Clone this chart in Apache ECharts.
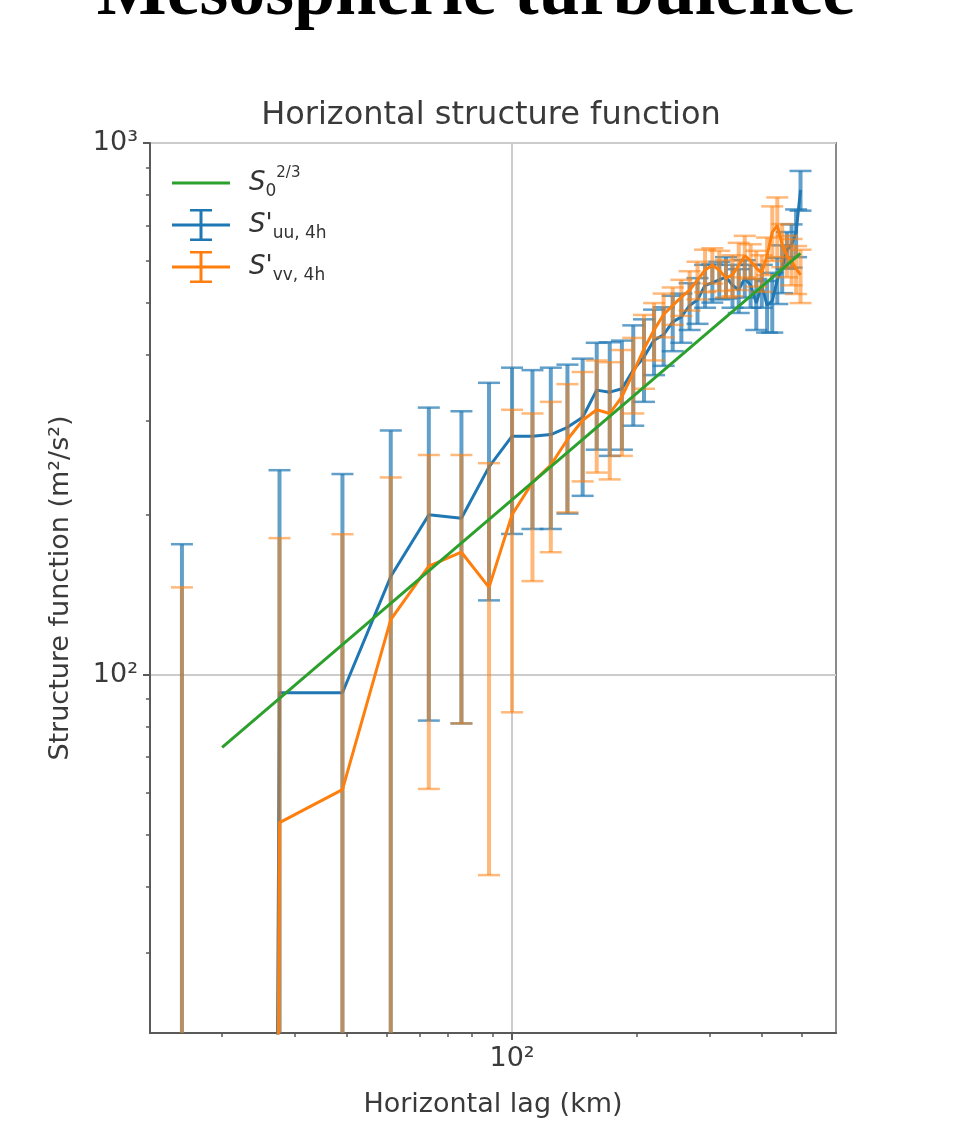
<!DOCTYPE html>
<html><head><meta charset="utf-8">
<script src="https://cdn.jsdelivr.net/npm/echarts@6/dist/echarts.min.js"></script>
<style>html,body{margin:0;padding:0;background:#fff}#c{width:960px;height:1124px}</style>
</head><body><div id="c"></div>
<script>
// ---------------- data ----------------
const mainTitle = 'Mesospheric turbulence';
const subTitle = 'Horizontal structure function';
const xName = 'Horizontal lag (km)';
const yName = 'Structure function (m²/s²)';

const lags = [16, 27.5, 39, 51, 63, 75.5, 88, 100, 112, 124, 136, 148, 160, 172, 184, 196, 208, 220, 232, 244,
  256, 268, 280, 292, 304, 316, 328, 340, 352, 364, 376, 388, 400, 412, 424, 436, 448, 460, 472, 484, 496];

const uuMean = [-45, 92.5, 92.5, 153, 200, 197, 246, 281, 281, 283, 292, 305, 343, 340, 345, 374, 396, 426, 436, 461,
  471, 495, 507, 540, 546, 553, 560, 540, 529, 557, 540, 500, 540, 495, 505, 553, 582, 630, 643, 680, 816];
const uuErr = [221, 150, 146, 135, 118, 116, 108, 97, 93, 95, 91, 88, 78, 82, 80, 80, 70, 60, 55, 55,
  50, 50, 50, 50, 45, 45, 50, 50, 50, 45, 50, 55, 50, 55, 65, 55, 60, 50, 60, 70, 70];

const vvMean = [-60, 52.7, 60.8, 127, 160, 170, 146, 200, 230, 248, 277, 301, 315, 310, 333, 370, 410, 445, 476, 495,
  513, 529, 553, 577, 589, 577, 557, 565, 589, 614, 600, 582, 570, 614, 680, 700, 644, 614, 600, 580, 565];
const vvErr = [206, 128, 123, 108, 99, 89, 104, 115, 80, 78, 75, 70, 75, 77, 75, 60, 65, 55, 45, 40,
  40, 45, 45, 53, 45, 50, 45, 50, 60, 55, 45, 45, 45, 50, 80, 90, 60, 55, 60, 60, 65];

const fitLag = [20, 496];
const fitVal = [73, 620];

const xMajorTicks = [100];
const xMinorTicks = [20, 30, 40, 50, 60, 70, 80, 90, 200, 300, 400, 500];
const yMajorTicks = [100, 1000];
const yMinorTicks = [30, 40, 50, 60, 70, 80, 90, 200, 300, 400, 500, 600, 700, 800, 900];

const X_MIN = 13.4, X_MAX = 604, Y_MIN = 21.2, Y_MAX = 1000;

const legendLabels = {
  fit: '{it|S}{sub|0}{sup|2/3}',
  uu: "{it|S'}{sub|uu, 4h}",
  vv: "{it|S'}{sub|vv, 4h}"
};

// ---------------- styles ----------------
const BLUE = '#1f77b4', ORANGE = '#ff7f0e', GREEN = '#2ca02c';
const TXT = '#3a3a3a', AX = '#5a5a5a';
const FONT = 'DejaVu Sans';

const supMap = {'0':'⁰','1':'¹','2':'²','3':'³','4':'⁴'};
const fmtPow = v => { const e = Math.round(Math.log10(v)); return '10' + String(e).split('').map(c => supMap[c]).join(''); };

// matplotlib-like clipping of non-positive values on a log axis
const clipPos = v => (v > 0 ? v : 1e-30);

const lineData = (means) => lags.map((l, i) => [l, clipPos(means[i])]);
const errData = (means, errs) => lags.map((l, i) => [l, means[i] - errs[i], means[i] + errs[i]]);

function errRender(color, opacity) {
  return function (params, api) {
    const x = api.value(0), lo = api.value(1), hi = api.value(2);
    const cs = params.coordSys;
    const top = cs.y, bot = cs.y + cs.height;
    const px = api.coord([x, 100])[0];
    const yHi = hi > 0 ? api.coord([x, hi])[1] : bot + 50;
    const yLo = lo > 0 ? api.coord([x, lo])[1] : bot + 50;
    const y1 = Math.max(top, Math.min(bot, yHi));
    const y2 = Math.max(top, Math.min(bot, yLo));
    const children = [{
      type: 'line', shape: {x1: px, y1: y1, x2: px, y2: y2},
      style: {stroke: color, lineWidth: 4, opacity: opacity}
    }];
    const cw = 11;
    [yHi, yLo].forEach(yy => {
      if (yy >= top && yy <= bot) {
        children.push({type: 'line', shape: {x1: px - cw, y1: yy, x2: px + cw, y2: yy},
          style: {stroke: color, lineWidth: 2.5, opacity: opacity}});
      }
    });
    return {type: 'group', children: children};
  };
}

const ICON_LINE = 'path://M0,0h0.01v0.01h-0.01z M57.99,33.99h0.01v0.01h-0.01z M0,15.5h58v3h-58z';
const ICON_ERR = 'path://M0,0h0.01v0.01h-0.01z M57.99,33.99h0.01v0.01h-0.01z M0,15.5h58v3h-58z M27.5,2h3v30h-3z M18,1h22v2.5h-22z M18,30.5h22v2.5h-22z';

const axisNameStyle = {fontFamily: FONT, fontSize: 27, color: TXT};
const tickLabelStyle = {fontFamily: FONT, fontSize: 27, color: TXT};

const chart = echarts.init(document.getElementById('c'), null, {renderer: 'canvas'});
chart.setOption({
  animation: false,
  backgroundColor: '#ffffff',
  graphic: [
    {type: 'text', x: 476, y: -5, z: 10, style: {text: mainTitle, fontFamily: 'Liberation Serif', fontWeight: 'bold', fontSize: 74, fill: '#000', align: 'center', verticalAlign: 'middle'}},
    {type: 'text', x: 491, y: 116, z: 10, style: {text: subTitle, fontFamily: FONT, fontSize: 32, fill: TXT, align: 'center', verticalAlign: 'middle'}}
  ],
  grid: {left: 150, right: 124, top: 143, bottom: 91, show: true, borderColor: '#8a8a8a', borderWidth: 2, backgroundColor: 'rgba(0,0,0,0)', outerBoundsMode: 'none'},
  legend: {
    orient: 'vertical', left: 167, top: 161, itemWidth: 58, itemHeight: 34, itemGap: 8,
    selectedMode: false,
    itemStyle: {borderWidth: 0},
    data: [
      {name: 'fit', icon: ICON_LINE},
      {name: 'uu', icon: ICON_ERR},
      {name: 'vv', icon: ICON_ERR}
    ],
    formatter: n => legendLabels[n],
    textStyle: {
      padding: [0, 0, 0, 14],
      rich: {
        it: {fontFamily: FONT, fontStyle: 'italic', fontSize: 26, color: '#333', lineHeight: 34},
        sub: {fontFamily: FONT, fontSize: 17, color: '#333', lineHeight: 14, verticalAlign: 'bottom'},
        sup: {fontFamily: FONT, fontSize: 15, color: '#333', lineHeight: 12, verticalAlign: 'top'}
      }
    }
  },
  xAxis: [
    {
      type: 'log', logBase: 10, min: X_MIN, max: X_MAX, position: 'bottom',
      name: xName, nameLocation: 'middle', nameGap: 58, nameTextStyle: axisNameStyle,
      axisLine: {show: true, lineStyle: {color: AX, width: 2}},
      axisTick: {show: true, customValues: xMajorTicks, length: 7, inside: false, lineStyle: {color: AX, width: 2}},
      axisLabel: {show: true, customValues: xMajorTicks, formatter: fmtPow, margin: 12, ...tickLabelStyle},
      splitLine: {show: true, lineStyle: {color: '#cccccc', width: 2}},
      minorTick: {show: false}, minorSplitLine: {show: false}
    },
    {
      type: 'log', logBase: 10, min: X_MIN, max: X_MAX, position: 'bottom',
      axisLine: {show: false},
      axisTick: {show: true, customValues: xMinorTicks, length: 4, lineStyle: {color: AX, width: 1.5}},
      axisLabel: {show: false}, splitLine: {show: false}
    }
  ],
  yAxis: [
    {
      type: 'log', logBase: 10, min: Y_MIN, max: Y_MAX, position: 'left',
      name: yName, nameLocation: 'middle', nameGap: 76, nameRotate: 90, nameTextStyle: axisNameStyle,
      axisLine: {show: true, lineStyle: {color: AX, width: 2}},
      axisTick: {show: true, customValues: yMajorTicks, length: 7, lineStyle: {color: AX, width: 2}},
      axisLabel: {show: true, customValues: yMajorTicks, formatter: fmtPow, margin: 12, ...tickLabelStyle},
      splitLine: {show: true, lineStyle: {color: '#cccccc', width: 2}},
      minorTick: {show: false}, minorSplitLine: {show: false}
    },
    {
      type: 'log', logBase: 10, min: Y_MIN, max: Y_MAX, position: 'left',
      axisLine: {show: false},
      axisTick: {show: true, customValues: yMinorTicks, length: 4, lineStyle: {color: AX, width: 1.5}},
      axisLabel: {show: false}, splitLine: {show: false}
    }
  ],
  series: [
    {
      name: 'uu', type: 'custom', xAxisIndex: 0, yAxisIndex: 0, z: 2,
      renderItem: errRender(BLUE, 0.7), data: errData(uuMean, uuErr),
      encode: {x: 0, y: [1, 2]}, itemStyle: {color: BLUE}, silent: true
    },
    {
      name: 'uu', type: 'line', xAxisIndex: 0, yAxisIndex: 0, z: 3,
      data: lineData(uuMean), showSymbol: false, symbol: 'none',
      lineStyle: {color: BLUE, width: 3}, itemStyle: {color: BLUE}, clip: true
    },
    {
      name: 'vv', type: 'custom', xAxisIndex: 0, yAxisIndex: 0, z: 4,
      renderItem: errRender(ORANGE, 0.55), data: errData(vvMean, vvErr),
      encode: {x: 0, y: [1, 2]}, itemStyle: {color: ORANGE}, silent: true
    },
    {
      name: 'vv', type: 'line', xAxisIndex: 0, yAxisIndex: 0, z: 5,
      data: lineData(vvMean), showSymbol: false, symbol: 'none',
      lineStyle: {color: ORANGE, width: 3}, itemStyle: {color: ORANGE}, clip: true
    },
    {
      name: 'fit', type: 'line', xAxisIndex: 0, yAxisIndex: 0, z: 6,
      data: fitLag.map((l, i) => [l, fitVal[i]]), showSymbol: false, symbol: 'none',
      lineStyle: {color: GREEN, width: 3}, itemStyle: {color: GREEN}, clip: true
    }
  ]
});
</script>
</body></html>
